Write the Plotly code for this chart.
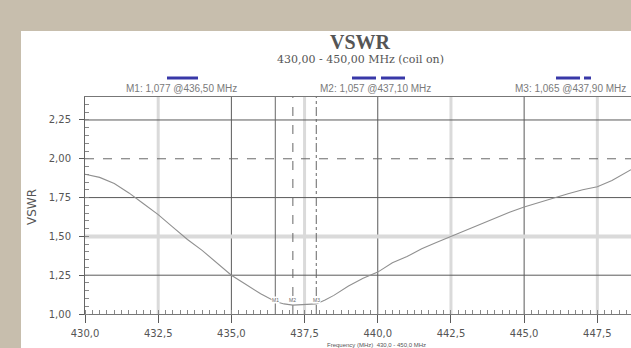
import plotly.graph_objects as go

# ---------------- data ----------------
freq_mhz = [430.0, 430.5, 431.0, 431.5, 432.0, 432.5, 433.0, 433.5, 434.0, 434.5,
            435.0, 435.5, 436.0, 436.5, 436.8, 437.1, 437.5, 437.9, 438.2, 438.5,
            439.0, 439.5, 440.0, 440.5, 441.0, 441.5, 442.0, 442.5, 443.0, 443.5,
            444.0, 444.5, 445.0, 445.5, 446.0, 446.5, 447.0, 447.5, 448.0, 448.65]
vswr = [1.90, 1.88, 1.84, 1.78, 1.71, 1.64, 1.56, 1.48, 1.41, 1.33,
        1.25, 1.19, 1.13, 1.08, 1.065, 1.057, 1.06, 1.065, 1.09, 1.12,
        1.18, 1.23, 1.27, 1.33, 1.37, 1.42, 1.46, 1.50, 1.54, 1.58,
        1.62, 1.655, 1.69, 1.72, 1.75, 1.775, 1.80, 1.82, 1.86, 1.93]

x_ticks = [430.0, 432.5, 435.0, 437.5, 440.0, 442.5, 445.0, 447.5]
y_ticks = [1.00, 1.25, 1.50, 1.75, 2.00, 2.25]

marker_names = ["M1", "M2", "M3"]
marker_freq = [436.5, 437.1, 437.9]
marker_vswr = [1.077, 1.057, 1.065]
marker_dash = ["solid", "dash", "dashdot"]

title_text = "VSWR"
subtitle_text = "430,00 - 450,00 MHz (coil on)"
xaxis_text = "Frequency (MHz)  430,0 - 450,0 MHz"

# ---------------- layout helpers ----------------
W, H = 631, 348
L, R, T, B = 85, 0, 97, 34
PW, PH = W - L - R, H - T - B


def px(x):
    return (x - L) / PW


def py(y):
    return (H - B - y) / PH


DARK = "#5a5a5a"
LIGHT = "#dadada"
TXT = "#555555"

fig = go.Figure()
fig.add_trace(go.Scatter(x=freq_mhz, y=vswr, mode="lines",
                         line=dict(color="#909090", width=1.1),
                         hoverinfo="skip", showlegend=False))

shapes = []
# white panel
shapes.append(dict(type="rect", xref="paper", yref="paper",
                   x0=px(21), x1=px(700), y0=py(400), y1=py(31),
                   fillcolor="white", line=dict(width=0), layer="below"))
# vertical grid
for i, xv in enumerate(x_ticks[1:], start=1):
    light = (i % 2 == 1)
    shapes.append(dict(type="line", xref="x", yref="paper", x0=xv, x1=xv, y0=0, y1=1,
                       line=dict(color=LIGHT if light else DARK, width=3 if light else 1),
                       layer="below"))
# horizontal grid
for yv in y_ticks[1:]:
    if abs(yv - 1.50) < 1e-9:
        ln = dict(color=LIGHT, width=4)
    elif abs(yv - 2.00) < 1e-9:
        ln = dict(color="#6a6a6a", width=1, dash="dash")
    else:
        ln = dict(color=DARK, width=1)
    shapes.append(dict(type="line", xref="paper", yref="y", x0=0, x1=1, y0=yv, y1=yv,
                       line=ln, layer="below"))
# marker lines
for f, d in zip(marker_freq, marker_dash):
    shapes.append(dict(type="line", xref="x", yref="paper", x0=f, x1=f, y0=0, y1=1,
                       line=dict(color="#666666", width=1, dash=d), layer="below"))
# blue indicator bars above marker labels
bar_px = [(167, 198), (352, 376), (381, 405), (556, 580), (584, 591)]
for a, b in bar_px:
    shapes.append(dict(type="rect", xref="paper", yref="paper",
                       x0=px(a), x1=px(b), y0=py(79.5), y1=py(76.5),
                       fillcolor="#3838a8", line=dict(width=0)))

annotations = []
annotations.append(dict(text="<b>" + title_text + "</b>", xref="paper", yref="paper",
                        x=px(360), y=py(42), showarrow=False, xanchor="center", yanchor="middle",
                        font=dict(family="Liberation Serif", size=20, color=TXT)))
annotations.append(dict(text=subtitle_text, xref="paper", yref="paper",
                        x=px(360), y=py(59), showarrow=False, xanchor="center", yanchor="middle",
                        font=dict(family="DejaVu Serif", size=11, color=TXT)))
label_centres = [181, 375, 570]
for name, f, v, c in zip(marker_names, marker_freq, marker_vswr, label_centres):
    txt = f"{name}: {v:.3f} @{f:.2f} MHz".replace(".", ",")
    annotations.append(dict(text=txt, xref="paper", yref="paper", x=px(c), y=py(89),
                            showarrow=False, xanchor="center", yanchor="middle",
                            font=dict(family="Liberation Sans", size=10, color="#7a7a7a")))
    annotations.append(dict(text=name, xref="x", yref="y", x=f, y=1.09, showarrow=False,
                            xanchor="center", yanchor="middle", bgcolor="white",
                            borderpad=0, font=dict(family="Liberation Sans", size=5, color="#666666")))
annotations.append(dict(text="VSWR", xref="paper", yref="paper", x=px(32), y=py(207),
                        textangle=-90, showarrow=False, xanchor="center", yanchor="middle",
                        font=dict(family="DejaVu Sans", size=12, color=TXT)))
annotations.append(dict(text=xaxis_text, xref="paper", yref="paper", x=px(376), y=py(341),
                        showarrow=False, xanchor="center", yanchor="top", borderpad=0,
                        font=dict(family="Liberation Sans", size=6, color=TXT)))

fig.update_layout(
    width=W, height=H,
    margin=dict(l=L, r=R, t=T, b=B, pad=0),
    paper_bgcolor="#c7bead",
    plot_bgcolor="rgba(0,0,0,0)",
    separators=", ",
    font=dict(family="DejaVu Sans", size=10, color=TXT),
    shapes=shapes,
    annotations=annotations,
    showlegend=False,
)
fig.update_xaxes(range=[430, 448.65], tickvals=x_ticks, tickformat=".1f",
                 showgrid=False, zeroline=False, showline=True, linecolor="#777777",
                 linewidth=1, mirror=True, ticks="outside", ticklen=8, tickcolor=DARK,
                 ticklabelstandoff=2,
                 tickfont=dict(family="DejaVu Sans", size=10, color=TXT),
                 minor=dict(ticks="inside", dtick=0.25, ticklen=4, tickcolor="#888888"))
fig.update_yaxes(range=[1.0, 2.398], tickvals=y_ticks, tickformat=".2f",
                 showgrid=False, zeroline=False, showline=True, linecolor="#666666",
                 linewidth=1, mirror=False, ticks="outside", ticklen=5, tickcolor=DARK,
                 ticklabelstandoff=6,
                 tickfont=dict(family="DejaVu Sans", size=10, color=TXT),
                 minor=dict(ticks="inside", dtick=0.05, ticklen=4, tickcolor="#888888"))

fig.write_html("out.html", config={"displayModeBar": False},
               post_script="document.body.style.margin='0';document.body.style.overflow='hidden';")
